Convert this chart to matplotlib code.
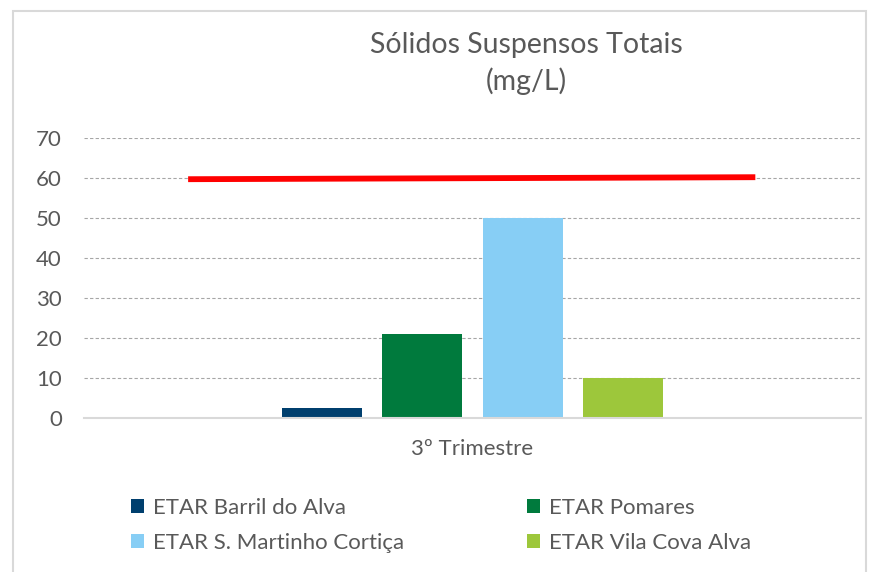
import matplotlib.pyplot as plt
from matplotlib.patches import Patch, Rectangle

# ── data ───────────────────────────────────────────────────────────────────
category    = "3º Trimestre"
etars       = ["ETAR Barril do Alva", "ETAR Pomares",
               "ETAR S. Martinho Cortiça", "ETAR Vila Cova Alva"]
sst_values  = [2.4, 21, 50, 10]
colors      = ["#003F6E", "#007A3D", "#87CEF5", "#9DC73B"]
limit_vals  = [59.7, 60.2]          # red limit line, start / end

# ── style ──────────────────────────────────────────────────────────────────
plt.rcParams["font.family"] = ["Lato", "DejaVu Sans"]
TXT = "#595959"

fig = plt.figure(figsize=(8.7, 5.72), dpi=100)
W, H = 870, 572

# chart frame
fig.patches.append(Rectangle((13 / W, -0.1), (866 - 13) / W, 1.1 - 11 / H,
                             transform=fig.transFigure, fill=False,
                             edgecolor="#d9d9d9", linewidth=1.5))

ax = fig.add_axes([84 / W, 1 - 418 / H, (861 - 84) / W, (418 - 138) / H])

bar_w = 0.103
step  = 0.1295
n     = len(etars)
offsets = [(i - (n - 1) / 2) * step for i in range(n)]
for off, val, col in zip(offsets, sst_values, colors):
    ax.bar(off, val, width=bar_w, color=col, zorder=3)

ax.plot([-0.366, 0.364], limit_vals, color="#FF0000", linewidth=4.2,
        solid_capstyle="butt", zorder=4)

ax.set_xlim(-0.5, 0.5)
ax.set_ylim(0, 70)
ax.set_yticks(range(0, 71, 10))
ax.set_xticks([0])
ax.set_xticklabels([category])
ax.tick_params(axis="both", length=0, labelsize=16, colors=TXT)
ax.tick_params(axis="y", pad=16)
ax.tick_params(axis="x", pad=15)

ax.grid(axis="y", color="#a6a6a6", linewidth=0.8, linestyle=(0, (3, 2)), zorder=0)
for s in ["top", "right", "left"]:
    ax.spines[s].set_visible(False)
ax.spines["bottom"].set_color("#d9d9d9")
ax.spines["bottom"].set_linewidth(1.5)
ax.spines["bottom"].set_zorder(5)

fig.text(526 / W, 1 - 45 / H, "Sólidos Suspensos Totais", ha="center",
         va="center", fontsize=20.5, color=TXT)
fig.text(526 / W, 1 - 81 / H, "(mg/L)", ha="center", va="center",
         fontsize=20.5, color=TXT)

handles = [Patch(facecolor=c) for c in colors]
order = [0, 2, 1, 3]
fig.legend([handles[i] for i in order], [etars[i] for i in order],
           ncol=2, loc="upper left", bbox_to_anchor=(111 / W, 1 - 478 / H),
           frameon=False, fontsize=16, labelcolor=TXT,
           handlelength=0.6, handleheight=0.6, handletextpad=0.4,
           columnspacing=5.5, labelspacing=0.68)

fig.savefig("out.png", dpi=100)
